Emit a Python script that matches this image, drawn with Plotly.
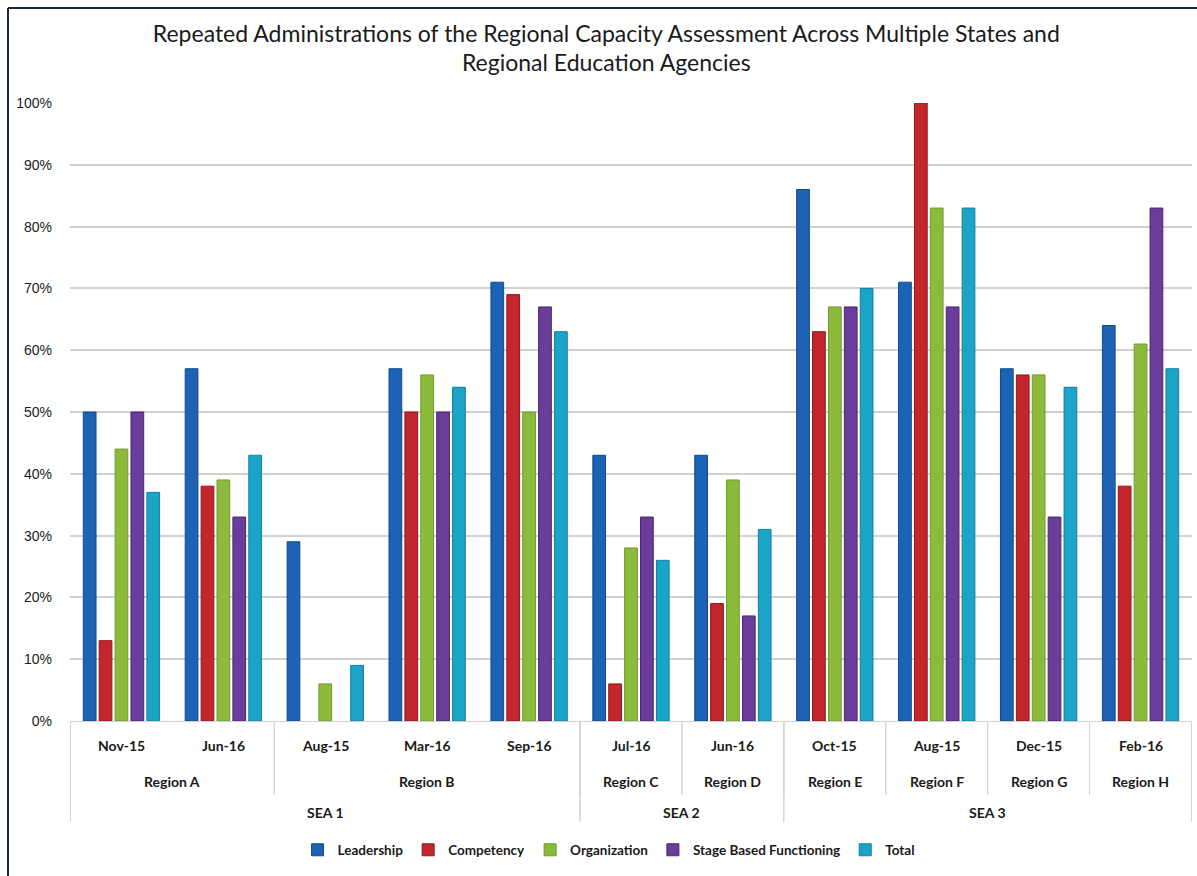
import plotly.graph_objects as go

sea = ["SEA 1", "SEA 1", "SEA 1", "SEA 1", "SEA 1", "SEA 2", "SEA 2", "SEA 3", "SEA 3", "SEA 3", "SEA 3"]
regions = ["Region A", "Region A", "Region B", "Region B", "Region B", "Region C", "Region D",
           "Region E", "Region F", "Region G", "Region H"]
dates = ["Nov-15", "Jun-16", "Aug-15", "Mar-16", "Sep-16", "Jul-16", "Jun-16",
         "Oct-15", "Aug-15", "Dec-15", "Feb-16"]

leadership = [0.50, 0.57, 0.29, 0.57, 0.71, 0.43, 0.43, 0.86, 0.71, 0.57, 0.64]
competency = [0.13, 0.38, None, 0.50, 0.69, 0.06, 0.19, 0.63, 1.00, 0.56, 0.38]
organization = [0.44, 0.39, 0.06, 0.56, 0.50, 0.28, 0.39, 0.67, 0.83, 0.56, 0.61]
stage_based = [0.50, 0.33, None, 0.50, 0.67, 0.33, 0.17, 0.67, 0.67, 0.33, 0.83]
total = [0.37, 0.43, 0.09, 0.54, 0.63, 0.26, 0.31, 0.70, 0.83, 0.54, 0.57]

series_names = ["Leadership", "Competency", "Organization", "Stage Based Functioning", "Total"]
series_values = [leadership, competency, organization, stage_based, total]
colors = ["#1d63b5", "#c4262d", "#8cbb3c", "#6b3d9b", "#1aa4c8"]
edge_colors = ["#0f4a8c", "#8e1a1f", "#6f9a2a", "#4a2570", "#137f9c"]

fig = go.Figure()
for name, vals, c, ec in zip(series_names, series_values, colors, edge_colors):
    fig.add_trace(go.Bar(
        x=[regions, dates], y=vals, name=name,
        marker=dict(color=c, line=dict(color=ec, width=1)),
    ))

L, R, T, B = 70, 5, 103, 155
W, H = 1197, 876
pw, ph = W - L - R, H - T - B

def px_to_paper_y(py):
    return (H - B - py) / ph

def px_to_paper_x(px):
    return (px - L) / pw

label_font = dict(family="Lato, Open Sans, sans-serif", size=14, color="#1a1a1a", weight="bold")

def runs(labels):
    out = []
    start = 0
    for i in range(1, len(labels) + 1):
        if i == len(labels) or labels[i] != labels[start] or (labels is regions and sea[i] != sea[start]):
            out.append((labels[start], start, i - 1))
            start = i
    return out

shapes = []
annotations = []
y_axis = px_to_paper_y(721)

# date labels
for i, d in enumerate(dates):
    annotations.append(dict(x=i, xref="x", y=px_to_paper_y(745), yref="paper", text=d,
                            showarrow=False, yanchor="middle", font=label_font))

# region labels and boundaries
region_groups = runs(regions)
for label, s, e in region_groups:
    annotations.append(dict(x=(s + e) / 2, xref="x", y=px_to_paper_y(781), yref="paper", text=label,
                            showarrow=False, yanchor="middle", font=label_font))
    for edge in (s - 0.5, e + 0.5):
        shapes.append(dict(type="line", xref="x", yref="paper", x0=edge, x1=edge,
                           y0=y_axis, y1=px_to_paper_y(795), line=dict(color="#d4d4d4", width=1)))

# SEA labels and boundaries
sea_groups = runs(sea)
for label, s, e in sea_groups:
    annotations.append(dict(x=(s + e) / 2, xref="x", y=px_to_paper_y(812), yref="paper", text=label,
                            showarrow=False, yanchor="middle", font=label_font))
    for edge in (s - 0.5, e + 0.5):
        shapes.append(dict(type="line", xref="x", yref="paper", x0=edge, x1=edge,
                           y0=y_axis, y1=px_to_paper_y(822), line=dict(color="#d4d4d4", width=1)))

# outer frame (left and top edges visible)
shapes.append(dict(type="line", xref="paper", yref="paper",
                   x0=px_to_paper_x(8), x1=px_to_paper_x(8), y0=px_to_paper_y(8), y1=px_to_paper_y(880),
                   line=dict(color="#1c2a44", width=2)))
shapes.append(dict(type="line", xref="paper", yref="paper",
                   x0=px_to_paper_x(8), x1=px_to_paper_x(1200), y0=px_to_paper_y(8), y1=px_to_paper_y(8),
                   line=dict(color="#1c2a44", width=2)))

fig.update_layout(
    width=W, height=H,
    margin=dict(l=L, r=R, t=T, b=B, autoexpand=False),
    paper_bgcolor="white", plot_bgcolor="white",
    barmode="group", bargap=0.22, bargroupgap=0.2,
    title=dict(text="Repeated Administrations of the Regional Capacity Assessment Across Multiple States and<br>Regional Education Agencies",
               x=0.478, xref="paper", y=1 - 41.5 / H, yanchor="middle",
               font=dict(family="Lato, Open Sans, sans-serif", size=23, color="#1a1a1a")),
    legend=dict(orientation="h", x=0.48, xanchor="center", y=px_to_paper_y(850), yanchor="middle",
                font=dict(family="Lato, Open Sans, sans-serif", size=13.5, color="#1a1a1a", weight="bold"),
                itemwidth=30, traceorder="normal"),
    shapes=shapes, annotations=annotations,
    font=dict(family="Liberation Sans, Arial, sans-serif"),
)
fig.update_yaxes(range=[0, 1], tickformat=".0%", dtick=0.1, showgrid=True, gridcolor="#d0d0d0",
                 gridwidth=1.5, zeroline=False, showline=False, ticks="",
                 ticklabelstandoff=17,
                 tickfont=dict(family="Liberation Sans, Arial, sans-serif", size=14, color="#1a1a1a"))
fig.update_xaxes(type="multicategory", showline=True, linecolor="#d0d0d0", linewidth=1,
                 showdividers=False, ticks="", showticklabels=False, showgrid=False)

fig.write_html("out.html")
